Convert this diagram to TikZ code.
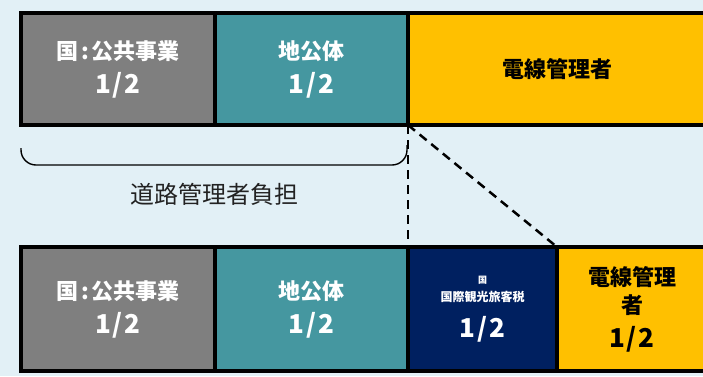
\documentclass[tikz,border=0pt]{standalone}
\usepackage{fontspec}
\setmainfont{Noto Sans CJK JP}
\usepackage{xcolor}
\usetikzlibrary{positioning, calc}

\definecolor{bgblue}{HTML}{E2F0F6}
\definecolor{kunigray}{HTML}{7F7F7F}
\definecolor{chihoteal}{HTML}{4597A0}
\definecolor{denkiyellow}{HTML}{FFC000}
\definecolor{kankonavy}{HTML}{002060}
\definecolor{textdark}{HTML}{222222}

\newcommand{\half}{{\fontsize{26}{30}\selectfont 1\kern2pt/\kern2pt2}}

\begin{document}
\begin{tikzpicture}[
    x=1pt, y=-1pt,
    share/.style={rectangle, draw=black, line width=3.5pt, outer sep=0pt, inner sep=0pt, align=center, text=white},
    kuni/.style={share, fill=kunigray, minimum width=194pt, font=\fontsize{22}{34}\selectfont\bfseries},
    chiho/.style={share, fill=chihoteal, minimum width=193pt, font=\fontsize{22}{34}\selectfont\bfseries},
    denki/.style={share, fill=denkiyellow, text=black, font=\fontsize{22}{28}\selectfont\bfseries},
    kanko/.style={share, fill=kankonavy, minimum width=149pt, font=\fontsize{12}{18}\selectfont\bfseries},
    guide/.style={black, line width=2.5pt, dash pattern=on 9pt off 6pt},
    bracket/.style={black, line width=1.4pt, rounded corners=15pt},
    note/.style={text=textdark, font=\fontsize{24}{28}\selectfont}
]
    \useasboundingbox (0,0) rectangle (703,376);
    \fill[bgblue] (0,0) rectangle (703,376);
    \clip (0,0) rectangle (703,376);

    % upper row
    \node[kuni, minimum height=112pt, anchor=north west] (kuni1) at (21,13)
        {国\hspace{3pt}:\hspace{3pt}公共事業\\\half};
    \node[chiho, minimum height=112pt, right=0pt of kuni1] (chiho1)
        {地公体\\\half};
    \node[denki, minimum height=112pt, minimum width=298pt, right=0pt of chiho1] (denki1)
        {電線管理者};

    % bracket
    \coordinate (brL) at ($(kuni1.south west)+(0,23)$);
    \coordinate (brR) at ($(chiho1.south east)+(-1,20)$);
    \draw[bracket] (brL) -- ($(brL)+(0,17)$) -- ($(brR)+(0,20)$) -- (brR);
    \node[note] (futan) at (214,194) {道路管理者負担};

    % lower row
    \node[kuni, minimum height=124pt, anchor=north west] (kuni2) at (21,247)
        {国\hspace{3pt}:\hspace{3pt}公共事業\\\half};
    \node[chiho, minimum height=124pt, right=0pt of kuni2] (chiho2)
        {地公体\\\half};
    \node[kanko, minimum height=124pt, right=0pt of chiho2] (kanko2)
        {{\fontsize{9}{11}\selectfont 国}\\国際観光旅客税\\[13pt]\half};
    \node[denki, minimum height=124pt, minimum width=150pt, right=0pt of kanko2] (denki2)
        {電線管理\\者\\[6pt]\half};

    \foreach \n in {kanko2,denki2} {
        \draw[guide] (denki1.south west) -- (\n.north west);
    }
\end{tikzpicture}
\end{document}
